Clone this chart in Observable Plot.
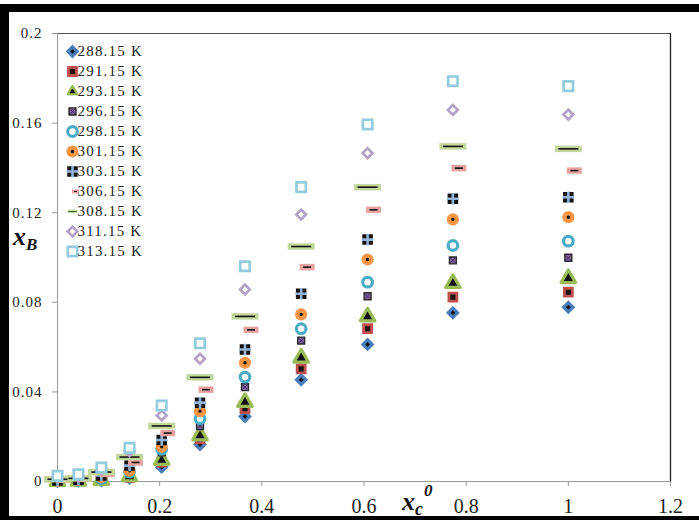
<!DOCTYPE html>
<html><head><meta charset="utf-8">
<script src="https://cdn.jsdelivr.net/npm/d3@7"></script>
<script src="https://cdn.jsdelivr.net/npm/@observablehq/plot@0.6"></script>
<style>
body{margin:0;background:#fff;}
#wrap{position:relative;width:699px;height:520px;overflow:hidden;background:#fff;}
.bar{position:absolute;background:#000;}
#legend{position:absolute;left:60px;top:37px;}
#main{position:absolute;left:0;top:0;}
</style></head><body>
<div id="wrap"><div id="main"></div><div id="legend"></div>
<div class="bar" style="left:0;top:4px;width:699px;height:8px"></div>
<div class="bar" style="left:0;top:4px;width:9px;height:516px"></div>
<div class="bar" style="left:0;top:516px;width:699px;height:4px"></div>
</div>
<script>
// mole fraction of c in solvent (x axis)
const xc0 = [0, 0.041, 0.086, 0.141, 0.204, 0.279, 0.367, 0.477, 0.607, 0.774, 1.0];
const temps = ["288.15 K","291.15 K","293.15 K","296.15 K","298.15 K","301.15 K","303.15 K","306.15 K","308.15 K","311.15 K","313.15 K"];
const xb288 = [0.0001, 0.0002, 0.0004, 0.0015, 0.0064, 0.0165, 0.0290, 0.0454, 0.0612, 0.0753, 0.0778];
const xb291 = [0.0002, 0.0003, 0.0005, 0.0018, 0.0086, 0.0190, 0.0325, 0.0503, 0.0682, 0.0823, 0.0845];
const xb293 = [0.0001, 0.0003, 0.0006, 0.0022, 0.0095, 0.0205, 0.0354, 0.0552, 0.0736, 0.0885, 0.0907];
const xb296 = [0.0002, 0.0004, 0.0010, 0.0034, 0.0130, 0.0247, 0.0421, 0.0629, 0.0827, 0.0987, 0.0999];
const xb298 = [0.0003, 0.0005, 0.0013, 0.0042, 0.0144, 0.0280, 0.0466, 0.0682, 0.0890, 0.1054, 0.1073];
const xb301 = [0.0003, 0.0006, 0.0019, 0.0048, 0.0155, 0.0314, 0.0530, 0.0746, 0.0991, 0.1170, 0.1180];
const xb303 = [0.0004, 0.0008, 0.0027, 0.0071, 0.0185, 0.0352, 0.0589, 0.0838, 0.1080, 0.1262, 0.1269];
const xb306 = [0.0008, 0.0012, 0.0034, 0.0085, 0.0216, 0.0410, 0.0677, 0.0957, 0.1213, 0.1399, 0.1388];
const xb308 = [0.0010, 0.0014, 0.0042, 0.0109, 0.0248, 0.0465, 0.0737, 0.1049, 0.1314, 0.1496, 0.1485];
const xb311 = [0.0020, 0.0025, 0.0055, 0.0135, 0.0295, 0.0548, 0.0857, 0.1192, 0.1466, 0.1659, 0.1638];
const xb313 = [0.0025, 0.0032, 0.0062, 0.0150, 0.0339, 0.0617, 0.0961, 0.1314, 0.1594, 0.1787, 0.1765];
const xTicks = [0, 0.2, 0.4, 0.6, 0.8, 1, 1.2];
const yTicks = [0, 0.04, 0.08, 0.12, 0.16, 0.2];

const seriesValues = [xb288, xb291, xb293, xb296, xb298, xb301, xb303, xb306, xb308, xb311, xb313];
const fmt = d => String(+d.toFixed(2));
const dash = (w, h) => ({draw(ctx) { ctx.rect(-w / 2, -h / 2, w, h); }});

const styles = [
  [{symbol: "diamond2", r: 4.2, fill: "#111", stroke: "#4a7ebb", strokeWidth: 3.2}],
  [{symbol: "square", r: 4.5, fill: "#111", stroke: "#c0504d", strokeWidth: 2.8}],
  [{symbol: "triangle", r: 5.4, fill: "#111", stroke: "#9bbb59", strokeWidth: 3.2, strokeLinejoin: "round"}],
  [{symbol: "square", r: 3.9, fill: "#8064a2", stroke: "#2a2a2a", strokeWidth: 1.4}, {symbol: "times", r: 2.2, fill: "none", stroke: "#3d2a5a", strokeWidth: 1}],
  [{symbol: "circle", r: 4.8, fill: "#fff", stroke: "#4bacc6", strokeWidth: 3.2}],
  [{symbol: "circle", r: 3.9, fill: "#111", stroke: "#f79646", strokeWidth: 4.4}],
  [{symbol: "square", r: 5.1, fill: "#111", stroke: "#111", strokeWidth: 1.5}, {symbol: "plus", r: 3.8, fill: "none", stroke: "#95b3d7", strokeWidth: 2.6}],
  [{symbol: dash(15, 6.5), r: 4, fill: "#e6a3a1", dx: 6}, {symbol: dash(8, 1.6), r: 4, fill: "#111", dx: 6}],
  [{symbol: dash(27, 6.5), r: 4, fill: "#c3d69b"}, {symbol: dash(20, 1.6), r: 4, fill: "#111"}],
  [{symbol: "diamond2", r: 4.4, fill: "#fff", stroke: "#b3a2c7", strokeWidth: 2.7}],
  [{symbol: "square", r: 5.3, fill: "#fff", stroke: "#93cddd", strokeWidth: 2.7}]
];
const legendStyles = styles.map(s => s.map(l => ({...l})));
legendStyles[2] = [{symbol: "triangle", r: 3.6, fill: "#111", stroke: "#9bbb59", strokeWidth: 2.2, strokeLinejoin: "round"}];
legendStyles[7] = [{symbol: dash(7, 4), r: 3, fill: "#e6a3a1", dx: 3}, {symbol: dash(3, 1), r: 3, fill: "#111", dx: 3}];
legendStyles[8] = [{symbol: dash(10, 3.5), r: 3, fill: "#c3d69b"}, {symbol: dash(8, 0.8), r: 3, fill: "#2a3a1a"}];

const seriesMarks = seriesValues.flatMap((vals, i) =>
  styles[i].map(l => Plot.dot(xc0, {x: xc0, y: vals, ...l}))
);

const serif = "'Liberation Serif', 'Times New Roman', serif";
const chart = Plot.plot({
  width: 699, height: 520,
  marginLeft: 57, marginRight: 29, marginTop: 33, marginBottom: 39,
  style: {fontFamily: serif, color: "#222", background: "transparent"},
  x: {domain: [0, 1.2], label: null},
  y: {domain: [0, 0.2], label: null},
  marks: [
    Plot.axisX({ticks: xTicks, tickFormat: fmt, tickSize: 5, tickPadding: 12, fontSize: 20, stroke: "#999", fill: "#222", label: null}),
    Plot.axisY({ticks: yTicks, tickFormat: fmt, tickSize: 5, tickPadding: 10, fontSize: 15, stroke: "#999", fill: "#222", label: null}),
    Plot.ruleY([0.2], {stroke: "#555"}),
    Plot.ruleX([1.2], {stroke: "#222", strokeWidth: 1.3}),
    Plot.ruleX([0], {stroke: "#999"}),
    Plot.ruleY([0], {stroke: "#999"}),
    ...seriesMarks
  ]
});
d3.select(chart).selectAll("g[aria-label='y-axis tick label']").style("letter-spacing", "1px");
document.getElementById("main").appendChild(chart);

const svg = d3.select(chart);
const tB = svg.append("text").attr("x", 13).attr("y", 245).attr("text-anchor", "start")
  .attr("font-family", serif).attr("font-weight", "bold").attr("font-style", "italic").attr("fill", "#111");
tB.append("tspan").attr("font-size", 26).text("x");
tB.append("tspan").attr("font-size", 17).attr("dy", 5).text("B");
const tC = svg.append("text").attr("x", 402).attr("y", 510).attr("text-anchor", "start")
  .attr("font-family", serif).attr("font-weight", "bold").attr("font-style", "italic").attr("fill", "#111");
tC.append("tspan").attr("font-size", 26).text("x");
tC.append("tspan").attr("font-size", 18).attr("dy", 5).text("c");
tC.append("tspan").attr("font-size", 17).attr("dy", -19).attr("dx", 1).text("0");

const legend = Plot.plot({
  width: 110, height: 233,
  marginLeft: 0, marginRight: 0, marginTop: 10, marginBottom: 15,
  style: {fontFamily: serif, background: "transparent"},
  x: {domain: [0, 1], axis: null},
  y: {type: "point", domain: temps, padding: 0, axis: null},
  marks: [
    ...temps.flatMap((t, i) => legendStyles[i].map(l => {
      const {dx = 0, ...rest} = l;
      return Plot.dot([t], {y: d => d, frameAnchor: "left", dx: 12 + dx, ...rest});
    })),
    Plot.text(temps, {y: d => d, text: d => d, frameAnchor: "left", dx: 17, textAnchor: "start", fontSize: 15, fill: "#222"})
  ]
});
d3.select(legend).selectAll("text").style("letter-spacing", "1.2px");
document.getElementById("legend").appendChild(legend);
</script>
</body></html>
